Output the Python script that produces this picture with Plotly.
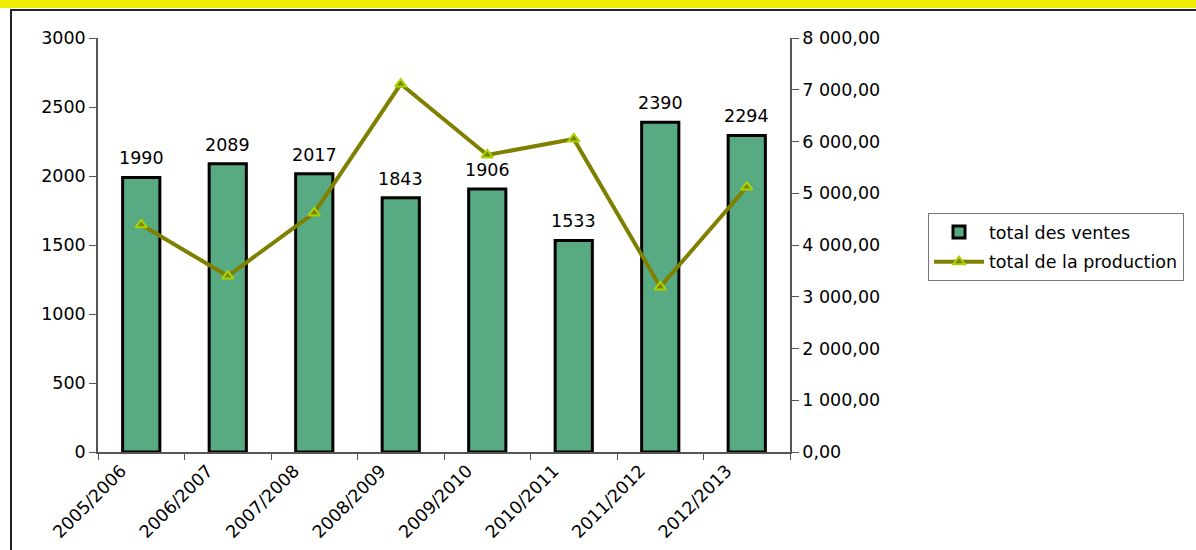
import plotly.graph_objects as go

categories = ["2005/2006", "2006/2007", "2007/2008", "2008/2009",
              "2009/2010", "2010/2011", "2011/2012", "2012/2013"]
ventes = [1990, 2089, 2017, 1843, 1906, 1533, 2390, 2294]
production = [4390, 3400, 4620, 7110, 5740, 6050, 3190, 5120]
left_ticks = [0, 500, 1000, 1500, 2000, 2500, 3000]
right_ticks = [0, 1000, 2000, 3000, 4000, 5000, 6000, 7000, 8000]

W, H = 1196, 550
ML, MR, MT, MB = 98, W - 790, 38, H - 452
PW, PH = W - ML - MR, H - MT - MB

def px_x(p):
    return (p - ML) / PW

def px_y(p):
    return (H - MB - p) / PH

FONT = "DejaVu Sans, Liberation Sans, Arial, sans-serif"
FS = 17.5

fig = go.Figure()
fig.add_trace(go.Bar(
    x=categories, y=ventes, name="total des ventes",
    marker=dict(color="#57aa82", line=dict(color="black", width=3)),
    yaxis="y", legendgroup="a",
))
fig.add_trace(go.Scatter(
    x=categories, y=production, name="total de la production",
    mode="lines+markers", yaxis="y2", legendgroup="b",
    line=dict(color="#808000", width=4),
    marker=dict(symbol="triangle-up", size=10, color="#808000",
                line=dict(color="#a8d400", width=2)),
))

for c, v in zip(categories, ventes):
    fig.add_annotation(x=c, y=v, text=str(v), showarrow=False,
                       yanchor="bottom", yshift=7, xref="x", yref="y",
                       font=dict(size=FS, color="black", family=FONT))

shapes = [
    dict(type="rect", xref="paper", yref="paper",
         x0=px_x(-5), x1=px_x(W + 5), y0=px_y(8), y1=px_y(-5),
         fillcolor="#eeee00", line=dict(width=0), layer="below"),
    dict(type="rect", xref="paper", yref="paper",
         x0=px_x(11), x1=px_x(W + 20), y0=px_y(H + 20), y1=px_y(10),
         fillcolor="rgba(0,0,0,0)", line=dict(color="#222222", width=2)),
]

fig.update_layout(
    width=W, height=H,
    margin=dict(l=ML, r=MR, t=MT, b=MB, autoexpand=False),
    paper_bgcolor="white", plot_bgcolor="white",
    font=dict(family=FONT, size=FS, color="black"),
    separators=", ",
    bargap=0.57,
    showlegend=True,
    legend=dict(x=px_x(928), y=px_y(213), xanchor="left", yanchor="top",
                bordercolor="#777777", borderwidth=1, bgcolor="white",
                font=dict(size=FS, family=FONT), tracegroupgap=4,
                itemwidth=50),
    xaxis=dict(type="category", showgrid=False, showline=True,
               linecolor="#555555", linewidth=1.5,
               ticks="outside", ticklen=6, tickcolor="#555555",
               tickson="boundaries", tickangle=-45, ticklabelshift=-20,
               tickfont=dict(size=FS, family=FONT)),
    yaxis=dict(range=[0, 3000], tickvals=left_ticks, tickformat="d",
               showgrid=False, zeroline=False, showline=True,
               linecolor="#555555", linewidth=1.5,
               ticks="outside", ticklen=7, tickcolor="#555555",
               tickfont=dict(size=FS, family=FONT)),
    yaxis2=dict(range=[0, 8000], tickvals=right_ticks, tickformat=",.2f",
                overlaying="y", side="right", showgrid=False, zeroline=False,
                showline=True, linecolor="#555555", linewidth=1.5,
                ticks="outside", ticklen=7, tickcolor="#555555",
                tickfont=dict(size=FS, family=FONT)),
    shapes=shapes,
)

fig.write_html("out.html", config={"displayModeBar": False},
               post_script="document.body.style.margin='0';")
